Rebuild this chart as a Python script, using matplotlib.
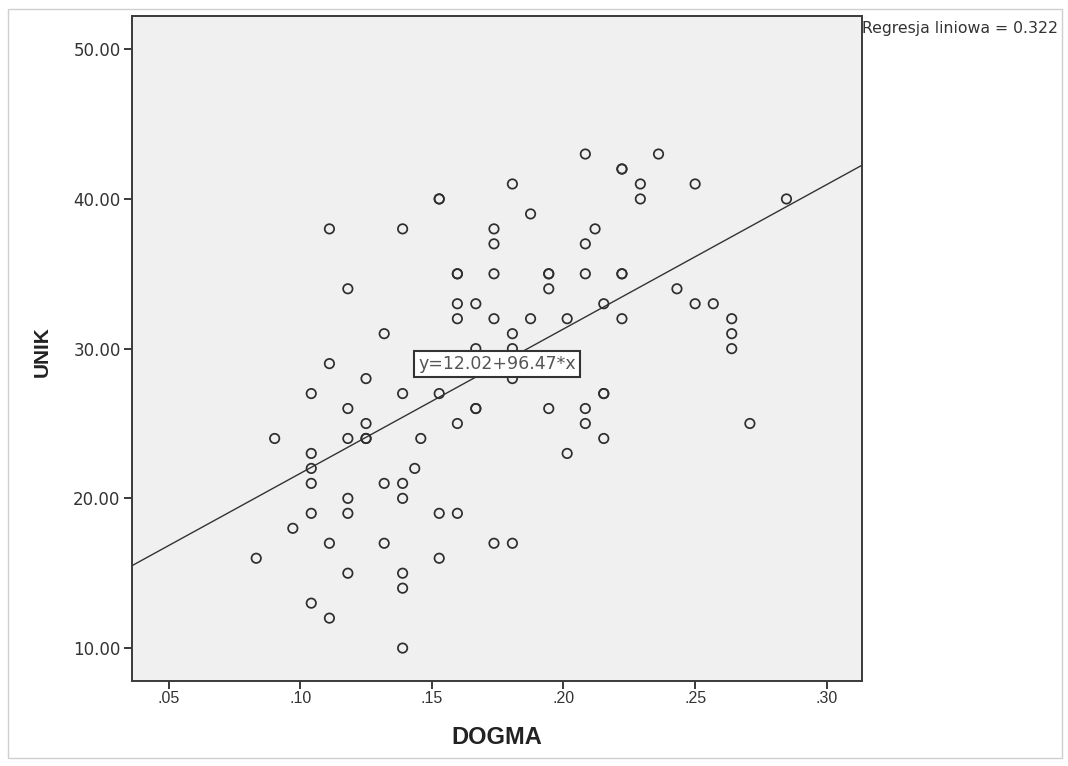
import matplotlib
matplotlib.use("Agg")
import matplotlib.pyplot as plt
import numpy as np
from matplotlib.patches import Rectangle

# ---- data ----
dogma = [
    0.0833,
    0.0903,
    0.0972,
    0.1042, 0.1042, 0.1042, 0.1042, 0.1042, 0.1042,
    0.1111, 0.1111, 0.1111, 0.1111,
    0.1181, 0.1181, 0.1181, 0.1181, 0.1181, 0.1181,
    0.1250, 0.1250, 0.1250, 0.1250,
    0.1319, 0.1319, 0.1319,
    0.1389, 0.1389, 0.1389, 0.1389, 0.1389, 0.1389, 0.1389,
    0.1458, 0.1435,
    0.1528, 0.1528, 0.1528, 0.1528, 0.1528,
    0.1597, 0.1597, 0.1597, 0.1597, 0.1597, 0.1597,
    0.1667, 0.1667, 0.1667, 0.1667,
    0.1736, 0.1736, 0.1736, 0.1736, 0.1736,
    0.1806, 0.1806, 0.1806, 0.1806, 0.1806,
    0.1875, 0.1875,
    0.1944, 0.1944, 0.1944, 0.1944,
    0.2014, 0.2014,
    0.2083, 0.2083, 0.2083, 0.2083, 0.2083,
    0.2120,
    0.2153, 0.2153, 0.2153, 0.2153,
    0.2222, 0.2222, 0.2222, 0.2222, 0.2222,
    0.2292, 0.2292,
    0.2361,
    0.2431,
    0.2500, 0.2500,
    0.2569,
    0.2639, 0.2639, 0.2639,
    0.2708,
    0.2847,
]
unik = [
    16,
    24,
    18,
    27, 23, 22, 21, 19, 13,
    38, 29, 17, 12,
    34, 26, 24, 20, 19, 15,
    28, 25, 24, 24,
    31, 21, 17,
    38, 27, 21, 20, 15, 14, 10,
    24, 22,
    40, 40, 27, 19, 16,
    35, 35, 33, 32, 25, 19,
    33, 30, 26, 26,
    38, 37, 35, 32, 17,
    41, 31, 30, 28, 17,
    39, 32,
    35, 35, 34, 26,
    32, 23,
    43, 37, 35, 26, 25,
    38,
    33, 27, 27, 24,
    42, 42, 35, 35, 32,
    41, 40,
    43,
    34,
    41, 33,
    33,
    32, 31, 30,
    25,
    40,
]
fit_intercept = 12.02
fit_slope = 96.47
r_squared_label = "Regresja liniowa = 0.322"
equation_label = "y=12.02+96.47*x"
x_ticks = [0.05, 0.10, 0.15, 0.20, 0.25, 0.30]
x_tick_labels = [".05", ".10", ".15", ".20", ".25", ".30"]
y_ticks = [10, 20, 30, 40, 50]
y_tick_labels = ["10.00", "20.00", "30.00", "40.00", "50.00"]

W, H = 1068, 766
fig = plt.figure(figsize=(W / 100, H / 100), dpi=100, facecolor="white")

# outer frame
fig.patches.append(Rectangle((8 / W, 1 - 758 / H), (1062 - 8) / W, (758 - 9) / H,
                             transform=fig.transFigure, fill=False,
                             edgecolor="#cfcfcf", linewidth=1.0))

ax_left, ax_right = 131.7 / W, 862.3 / W
ax_top, ax_bottom = 1 - 15.7 / H, 1 - 681 / H
ax = fig.add_axes([ax_left, ax_bottom, ax_right - ax_left, ax_top - ax_bottom])
ax.set_facecolor("#f0f0f0")

xlim = (0.0360, 0.3135)
ylim = (7.80, 52.24)
ax.set_xlim(*xlim)
ax.set_ylim(*ylim)

ax.scatter(dogma, unik, s=46, facecolors="none", edgecolors="#2e2e2e",
           linewidths=1.25, zorder=3)

xs = np.array(xlim)
ax.plot(xs, fit_intercept + fit_slope * xs, color="#333333", linewidth=1.0, zorder=2)

ax.text(0.1748, 28.97, equation_label, ha="center", va="center",
        fontsize=12.5, family="DejaVu Sans", color="#555555", zorder=4,
        bbox=dict(boxstyle="square,pad=0.25", facecolor="white",
                  edgecolor="#333333", linewidth=1.5))

for sp in ax.spines.values():
    sp.set_color("#3a3a3a")
    sp.set_linewidth(1.4)

ax.set_xticks(x_ticks)
ax.set_xticklabels(x_tick_labels, family="Liberation Sans", fontsize=11.5, color="#333333")
ax.set_yticks(y_ticks)
ax.set_yticklabels(y_tick_labels, family="DejaVu Sans", fontsize=12, color="#333333")
ax.tick_params(axis="both", direction="out", length=6, width=1.4, color="#3a3a3a")
ax.tick_params(axis="x", pad=1.5)
ax.tick_params(axis="y", pad=2)

fig.text(497 / W, 1 - 738 / H, "DOGMA", ha="center", va="center",
         family="Liberation Sans", fontweight="bold", fontsize=17, color="#222222")
fig.text(42 / W, 1 - 352 / H, "UNIK", ha="center", va="center", rotation=90,
         family="Liberation Sans", fontweight="bold", fontsize=15, color="#222222")

fig.text(862 / W, 1 - 28 / H, r_squared_label, ha="left", va="center",
         family="DejaVu Sans", fontsize=11.3, color="#333333")

fig.savefig("out.png", dpi=100, facecolor="white")
